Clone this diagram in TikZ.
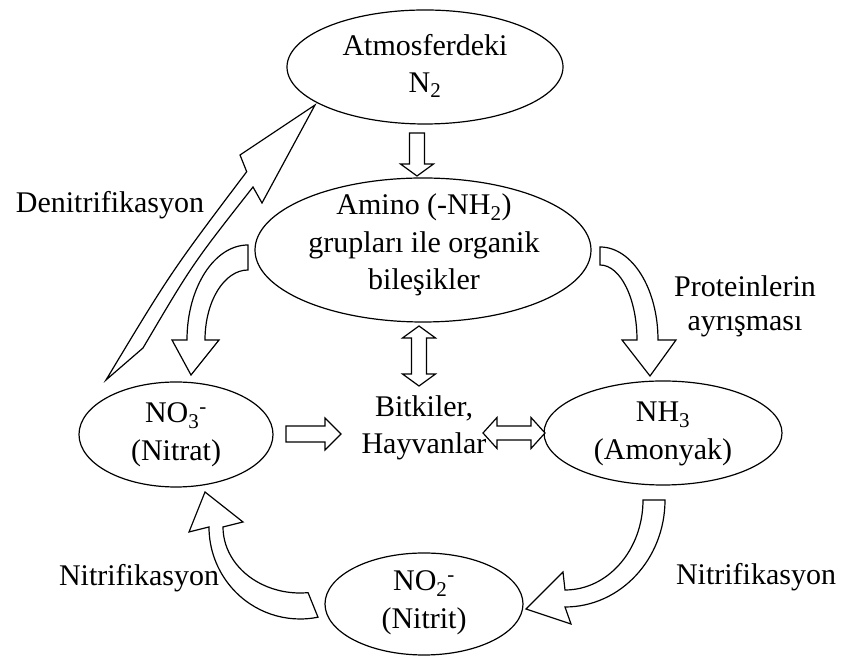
\documentclass[tikz,border=0pt]{standalone}
\usepackage{fontspec}
\setmainfont{Liberation Serif}
\usetikzlibrary{calc,shapes.geometric}
\newcommand{\blockarr}[5]{% #1 tail, #2 tip, #3 half shaft, #4 half head, #5 head length
  \path ($(#2)!#5!(#1)$) coordinate (hb);
  \filldraw[barrow] ($(#1)!#3!90:(#2)$) -- ($(hb)!#3!90:(#2)$) -- ($(hb)!#4!90:(#2)$) -- (#2)
    -- ($(hb)!#4!-90:(#2)$) -- ($(hb)!#3!-90:(#2)$) -- ($(#1)!#3!-90:(#2)$) -- cycle;
}
\newcommand{\dblockarr}[5]{% #1 tip1, #2 tip2
  \path ($(#1)!#5!(#2)$) coordinate (hba) ($(#2)!#5!(#1)$) coordinate (hbb);
  \filldraw[barrow] (#1) -- ($(hba)!#4!90:(#2)$) -- ($(hba)!#3!90:(#2)$) -- ($(hbb)!#3!-90:(#1)$)
    -- ($(hbb)!#4!-90:(#1)$) -- (#2) -- ($(hbb)!#4!90:(#1)$) -- ($(hbb)!#3!90:(#1)$)
    -- ($(hba)!#3!-90:(#2)$) -- ($(hba)!#4!-90:(#2)$) -- cycle;
}
\begin{document}
\begin{tikzpicture}[x=1pt,y=1pt,
  ell/.style={draw, ellipse, line width=1.2pt, inner sep=0pt},
  txt/.style={font=\fontsize{30}{37.5}\selectfont, align=center, inner sep=0pt},
  barrow/.style={draw=black, fill=white, line width=1.2pt, line join=miter}]
\useasboundingbox (0,0) rectangle (841,660);
% ellipses
\node[ell, minimum width=276pt, minimum height=114pt] (atm) at (425,593) {};
\node[ell, minimum width=336pt, minimum height=144pt] (amino) at (423,410) {};
\node[ell, minimum width=194pt, minimum height=105pt] (nitrat) at (176,225.5) {};
\node[ell, minimum width=238pt, minimum height=104pt] (amonyak) at (663,227) {};
\node[ell, minimum width=198pt, minimum height=102pt] (nitrit) at (424,56) {};
% texts
\node[txt] (atmt) at (425,594) {Atmosferdeki\\N\textsubscript{2}};
\node[txt] (aminot) at (424,415) {Amino (-NH\textsubscript{2})\\grupları ile organik\\bileşikler};
\node[txt] (bitki) at (424,232) {Bitkiler,\\Hayvanlar};
\node[txt] (nitratt) at (176,225) {NO\textsubscript{3}\textsuperscript{-}\\(Nitrat)};
\node[txt] (amonyakt) at (663,226) {NH\textsubscript{3}\\(Amonyak)};
\node[txt] (nitritt) at (424,57) {NO\textsubscript{2}\textsuperscript{-}\\(Nitrit)};
\node[txt] (denit) at (110,455) {Denitrifikasyon};
\node[txt, font=\fontsize{30}{34}\selectfont] (prot) at (745,354) {Proteinlerin\\ayrışması};
\node[txt] (nitl) at (139,82) {Nitrifikasyon};
\node[txt] (nitr) at (756,83) {Nitrifikasyon};
% straight block arrows
\coordinate (a1) at (417,527); \coordinate (a2) at (417,484);
\blockarr{a1}{a2}{7.5pt}{16.5pt}{12pt}
\coordinate (b1) at (419,334); \coordinate (b2) at (419,274);
\dblockarr{b1}{b2}{7.5pt}{16.5pt}{12pt}
\coordinate (c1) at (286,226); \coordinate (c2) at (341,226);
\blockarr{c1}{c2}{8pt}{16pt}{16pt}
\coordinate (d1) at (483,227); \coordinate (d2) at (545,227);
\dblockarr{d1}{d2}{7pt}{15.5pt}{14pt}
% curved arrow amino -> nitrat
\coordinate (ce) at (248,320);
\filldraw[barrow] ($(ce)+(0,95)$) arc[start angle=90,end angle=180,x radius=61,y radius=95]
  -- ++(-15,0) -- (191,285) -- (219,320) -- ($(ce)+(-43,0)$)
  arc[start angle=180,end angle=90,x radius=43,y radius=70] -- cycle;
% curved arrow amino -> amonyak
\coordinate (cf) at (600,320);
\filldraw[barrow] ($(cf)+(0,93)$) arc[start angle=90,end angle=0,x radius=58,y radius=93]
  -- (676,320) -- (650,284) -- (622,320) -- ($(cf)+(37,0)$)
  arc[start angle=0,end angle=90,x radius=37,y radius=75] -- cycle;
% curved arrow amonyak -> nitrit
\coordinate (ch) at (565,160);
\filldraw[barrow] ($(ch)+(78,0)$) arc[start angle=0,end angle=-90,x radius=78,y radius=90]
  -- (563,88) -- (526,51) -- (571,36) -- ($(ch)+(0,-107)$)
  arc[start angle=-90,end angle=0,x radius=100,y radius=107] -- cycle;
% curved arrow nitrit -> nitrat
\coordinate (ci) at (300,133);
\filldraw[barrow] ($(ci)+(-78.6:91pt and 92pt)$) arc[start angle=-78.6,end angle=-180,x radius=91,y radius=92]
  -- (189,128) -- (205,168) -- (243,138) -- ($(ci)+(-77,0)$)
  arc[start angle=180,end angle=276,x radius=77,y radius=66] -- cycle;
% denitrification arrow nitrat -> atm
\coordinate (g1) at (106,280); \coordinate (g2) at (315,555);
\filldraw[barrow] (g1) .. controls (171,388) .. (246.7,488.3) -- (240,505) -- (g2)
  -- (262,457) -- (253,473) .. controls (192.5,396) .. (143,312) -- cycle;
\end{tikzpicture}
\end{document}
